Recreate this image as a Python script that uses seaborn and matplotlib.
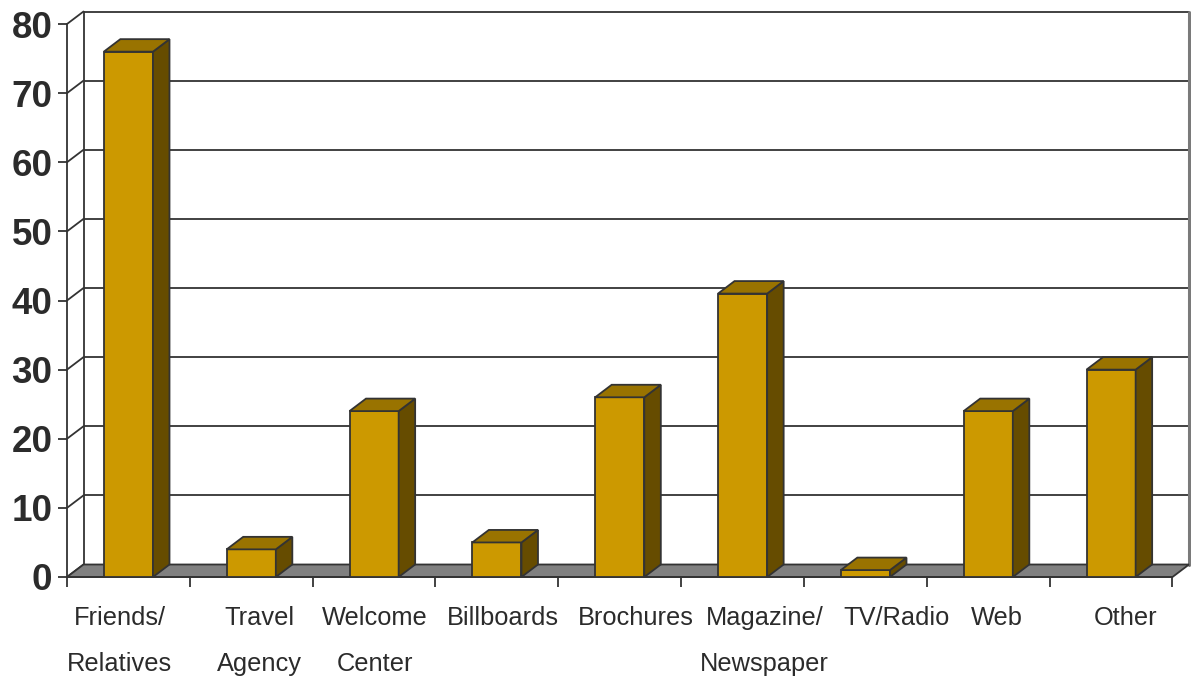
import matplotlib
matplotlib.use("Agg")
import matplotlib.pyplot as plt
from matplotlib.patches import Polygon
from matplotlib.transforms import ScaledTranslation, blended_transform_factory
import pandas as pd
import seaborn as sns

# Information sources
categories = ["Friends/\nRelatives", "Travel\nAgency", "Welcome\nCenter", "Billboards",
              "Brochures", "Magazine/\nNewspaper", "TV/Radio", "Web", "Other"]
values = [76, 4, 24, 5, 26, 41, 1, 24, 30]
y_ticks = [0, 10, 20, 30, 40, 50, 60, 70, 80]

# horizontal nudges (pixels) for the category labels
label_nudge_px = [-9, 8, 1, 6, 16, 22, 31, 9, 14]

FRONT = "#CC9900"
TOP = "#997300"
SIDE = "#664C00"
EDGE = "#333333"
FLOOR = "#808080"
TEXT = "#2b2b2b"

sns.set_theme(style="white")
plt.rcParams["font.family"] = ["Liberation Sans", "DejaVu Sans"]

W, H, DPI = 1191, 679, 100
fig = plt.figure(figsize=(W / DPI, H / DPI), dpi=DPI)

# axes box in pixels
x_left, x_front_right, x_back_right = 67, 1172, 1189
y_zero, y_eighty, y_top = 577, 24, 11
ax = fig.add_axes([x_left / W, (H - y_zero) / H,
                   (x_back_right - x_left) / W, (y_zero - y_top) / H])

n = len(categories)
cat_px = (x_front_right - x_left) / n
val_px = (y_zero - y_eighty) / 80.0
depth_x_px, depth_y_px = 16.5, 12.5
dx = depth_x_px / cat_px
dy = depth_y_px / val_px

df = pd.DataFrame({"source": categories, "pct": values})
sns.barplot(data=df, x="source", y="pct", order=categories, color=FRONT,
            saturation=1, width=0.4, edgecolor=EDGE, linewidth=1.3,
            errorbar=None, ax=ax, zorder=5)

ax.set_xlim(-0.5, n - 0.5 + dx)
ax.set_ylim(0, 80 + (y_eighty - y_top) / val_px)
ax.set_xlabel("")
ax.set_ylabel("")

x0, x1 = -0.5, n - 0.5

# back wall grid, left wall diagonals
for v in y_ticks:
    ax.plot([x0 + dx, x1 + dx], [v + dy, v + dy], color=EDGE, lw=1.3, zorder=1,
            clip_on=False, solid_capstyle="butt")
    ax.plot([x0, x0 + dx], [v, v + dy], color=EDGE, lw=1.3, zorder=1, clip_on=False)
ax.plot([x0 + dx, x0 + dx], [dy, 80 + dy], color=EDGE, lw=1.3, zorder=1, clip_on=False)
ax.plot([x1 + dx, x1 + dx], [dy, 80 + dy], color="#7a7a7a", lw=2.2, zorder=1, clip_on=False)

# floor
floor = Polygon([(x0, 0), (x1, 0), (x1 + dx, dy), (x0 + dx, dy)], closed=True,
                facecolor=FLOOR, edgecolor=EDGE, lw=1.3, zorder=2, clip_on=False)
ax.add_patch(floor)

# top and side faces of each bar
for p in list(ax.patches):
    if p is floor:
        continue
    bx, bw, bh = p.get_x(), p.get_width(), p.get_height()
    top = Polygon([(bx, bh), (bx + bw, bh), (bx + bw + dx, bh + dy), (bx + dx, bh + dy)],
                  closed=True, facecolor=TOP, edgecolor=EDGE, lw=1.3, zorder=6)
    side = Polygon([(bx + bw, 0), (bx + bw + dx, dy), (bx + bw + dx, bh + dy), (bx + bw, bh)],
                   closed=True, facecolor=SIDE, edgecolor=EDGE, lw=1.3, zorder=6)
    ax.add_patch(side)
    ax.add_patch(top)

# spines
for s in ["top", "right"]:
    ax.spines[s].set_visible(False)
ax.spines["left"].set_bounds(0, 80)
ax.spines["bottom"].set_bounds(x0, x1)
for s in ["left", "bottom"]:
    ax.spines[s].set_color(EDGE)
    ax.spines[s].set_linewidth(1.3)
    ax.spines[s].set_zorder(3)

# y axis
ax.set_yticks(y_ticks)
ax.set_yticklabels([str(t) for t in y_ticks], fontsize=26.5, fontweight="bold", color=TEXT)
ax.tick_params(axis="y", direction="out", length=6.5, width=1.3, color=EDGE, pad=4,
               left=True)

# x axis: boundary ticks, labels drawn as text below
ax.set_xticks([i - 0.5 for i in range(n + 1)])
ax.set_xticklabels([])
ax.tick_params(axis="x", direction="out", length=7.2, width=1.3, color=EDGE, bottom=True)

trans = blended_transform_factory(ax.transData, ax.transAxes)
for i, (lab, nud) in enumerate(zip(categories, label_nudge_px)):
    off = ScaledTranslation(nud / DPI, -29 / DPI, fig.dpi_scale_trans)
    ax.text(i, 0, lab, transform=trans + off, ha="center", va="top",
            multialignment="center", fontsize=18.3, color=TEXT, linespacing=2.17)

ax.grid(False)
ax.set_facecolor("white")
fig.savefig("out.png", dpi=DPI, facecolor="white")
